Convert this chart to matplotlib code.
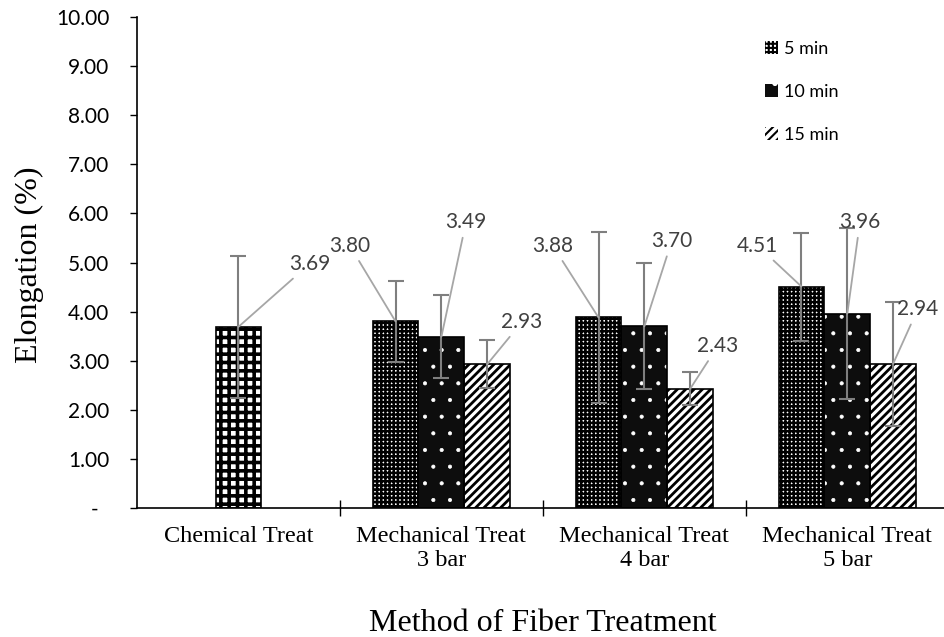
import matplotlib.pyplot as plt
import matplotlib.ticker as mticker
from matplotlib.patches import Patch
import numpy as np

# data
categories = ["Chemical Treat", "Mechanical Treat\n3 bar", "Mechanical Treat\n4 bar", "Mechanical Treat\n5 bar"]
chem_val = 3.69
chem_err = 1.44
min5 = [3.80, 3.88, 4.51]
err5 = [0.82, 1.75, 1.10]
min10 = [3.49, 3.70, 3.96]
err10 = [0.84, 1.28, 1.74]
min15 = [2.93, 2.43, 2.94]
err15 = [0.49, 0.34, 1.26]
series_names = ["5 min", "10 min", "15 min"]

# label offsets (layout only)
chem_off = (0.35, 1.28)
offsets = [
    [(-0.225, 1.54), (-0.225, 1.46), (-0.215, 0.83)],
    [(0.121, 2.33), (0.135, 1.74), (0.062, 1.86)],
    [(0.171, 0.86), (0.136, 0.87), (0.121, 1.11)],
]

fig = plt.figure(figsize=(9.44, 6.37), dpi=100)
ax = fig.add_axes([0.1451, 0.2025, 0.860, 0.7708])

w = 0.226
gx = np.arange(1, 4)
num_font = "Lato"
grey = "#7f7f7f"
lead = "#a6a6a6"

def draw(x, vals, errs, face, hcol, hatch, hlw):
    with plt.rc_context({'hatch.linewidth': hlw}):
        ax.bar(x, vals, w, color=face, edgecolor=hcol, hatch=hatch, linewidth=0, zorder=2)
    ax.bar(x, vals, w, fill=False, edgecolor="black", linewidth=1.2, zorder=3)
    ax.errorbar(x, vals, yerr=errs, fmt="none", ecolor=grey, elinewidth=1.5,
                capsize=6, capthick=1.5, zorder=4)

# chemical
draw([0], [chem_val], [chem_err], "white", "black", "++", 2.6)
styles = [("white", "black", "++++", 1.8), ("#0d0d0d", "white", ".", 0.5), ("white", "black", "////", 2.0)]
all_vals = [min5, min10, min15]
all_errs = [err5, err10, err15]
for i in range(3):
    face, hcol, hatch, hlw = styles[i]
    draw(gx + (i - 1) * w, all_vals[i], all_errs[i], face, hcol, hatch, hlw)

def label(x, y, off):
    ax.annotate(f"{y:.2f}", xy=(x, y), xytext=(x + off[0], y + off[1]),
                ha="center", va="center", fontsize=15, color="#404040",
                fontfamily=num_font,
                arrowprops=dict(arrowstyle="-", color=lead, lw=1.3, shrinkA=2, shrinkB=0),
                zorder=5)

label(0, chem_val, chem_off)
for i in range(3):
    for j in range(3):
        label(gx[j] + (i - 1) * w, all_vals[i][j], offsets[i][j])

ax.set_xlim(-0.5, 3.5)
ax.set_ylim(0, 10)
ax.spines['top'].set_visible(False)
ax.spines['right'].set_visible(False)
ax.spines['left'].set_linewidth(1.2)
ax.spines['bottom'].set_linewidth(1.2)

ax.set_yticks(np.arange(0, 11, 1))
ax.yaxis.set_major_formatter(mticker.FuncFormatter(lambda v, p: "-  " if v == 0 else f"{v:.2f}"))
ax.tick_params(axis="y", direction="out", length=5, width=1, labelsize=15, pad=15)
for t in ax.get_yticklabels():
    t.set_fontfamily(num_font)

ax.set_xticks(np.arange(4))
ax.set_xticklabels(categories, fontsize=17.5, fontfamily="Liberation Serif", linespacing=1.2)
ax.tick_params(axis="x", length=0, pad=13)
ax.set_xticks(np.arange(4) + 0.5, minor=True)
ax.tick_params(axis="x", which="minor", direction="inout", length=12, width=1)

ax.set_ylabel("Elongation (%)", fontsize=23, fontfamily="Liberation Serif")
ax.yaxis.label.set_va("center")
ax.yaxis.set_label_coords(-0.132, 0.495)
ax.set_xlabel("Method of Fiber Treatment", fontsize=23, fontfamily="Liberation Serif")
ax.xaxis.label.set_va("center")
ax.xaxis.set_label_coords(0.5, -0.235)

with plt.rc_context({'hatch.linewidth': 1.5}):
    handles = [Patch(facecolor=s[0], edgecolor=s[1], hatch=s[2], linewidth=0) for s in styles]
    leg = ax.legend(handles, series_names, loc="upper left", bbox_to_anchor=(0.753, 0.985),
                    frameon=False, handlelength=0.75, handleheight=0.75, handletextpad=0.35,
                    labelspacing=1.5, prop={"family": num_font, "size": 13})

fig.savefig("out.png", dpi=100)
